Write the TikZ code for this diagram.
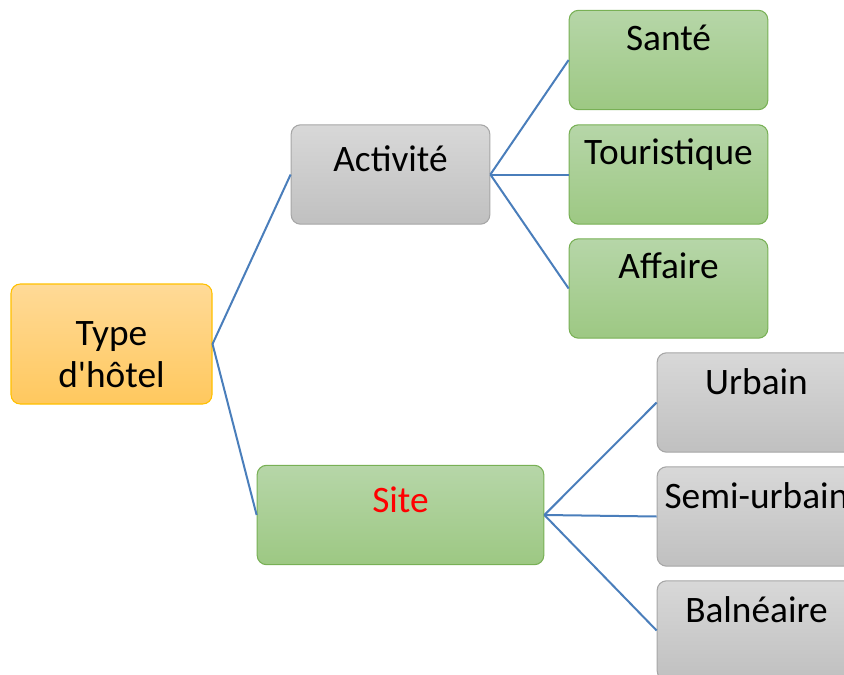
\documentclass[tikz,border=0pt]{standalone}
\usepackage{fontspec}
\setmainfont{Carlito}
\usepackage{xcolor}
\usetikzlibrary{shapes,positioning}

\definecolor{linkblue}{HTML}{4A7EBB}
\definecolor{orangetop}{HTML}{FFDA97}
\definecolor{orangebot}{HTML}{FFC85E}
\definecolor{orangeline}{HTML}{FFC000}
\definecolor{graytop}{HTML}{D8D8D8}
\definecolor{graybot}{HTML}{C0C0C0}
\definecolor{grayline}{HTML}{A6A6A6}
\definecolor{greentop}{HTML}{B6D6A8}
\definecolor{greenbot}{HTML}{9DC883}
\definecolor{greenline}{HTML}{78B055}
\definecolor{sitered}{HTML}{FF0000}

\tikzset{
  box/.style={draw, rounded corners=7pt, line width=0.8pt, inner xsep=0pt, inner ysep=0pt,
    minimum width=149pt, minimum height=74.5pt, font=\fontsize{28}{32}\selectfont},
  graybox/.style={box, top color=graytop, bottom color=graybot, draw=grayline,
    text height=35pt, text depth=39.5pt},
  greenbox/.style={box, top color=greentop, bottom color=greenbot, draw=greenline,
    text height=30pt, text depth=44.5pt},
  orangebox/.style={box, top color=orangetop, bottom color=orangebot, draw=orangeline,
    align=center, minimum width=150.75pt, minimum height=90pt},
  link/.style={draw=linkblue, line width=1.5pt}
}

\begin{document}
\begin{tikzpicture}[x=0.75pt,y=-0.75pt]
\clip (0,0) rectangle (844,675);

\node[orangebox] (type) at (111.5,344) {\rule{0pt}{34pt}Type\\d\textquotesingle hôtel};
\node[graybox] (act) at (390.5,174.5) {Activité};
\node[greenbox, text height=35pt, text depth=39.5pt, minimum width=215pt, text=sitered] (site) at (400.5,515) {Site};

\node[greenbox] (sante) at (668.5,60) {Santé};
\node[greenbox] (tour) at (668.5,174.5) {Touristique};
\node[greenbox] (aff) at (668.5,288.5) {Affaire};

\node[graybox, text height=31pt, text depth=43.5pt] (urb) at (756.5,402.5) {Urbain};
\node[graybox, text height=31pt, text depth=43.5pt] (semi) at (756.5,516.5) {Semi-urbain};
\node[graybox, text height=31pt, text depth=43.5pt] (baln) at (756.5,630.5) {Balnéaire};

\draw[link] (act.west) -- (type.east) -- (site.west);
\draw[link] (act.east) -- (sante.west);
\draw[link] (act.east) -- (tour.west);
\draw[link] (act.east) -- (aff.west);
\draw[link] (site.east) -- (urb.west);
\draw[link] (site.east) -- (semi.west);
\draw[link] (site.east) -- (baln.west);
\end{tikzpicture}
\end{document}
